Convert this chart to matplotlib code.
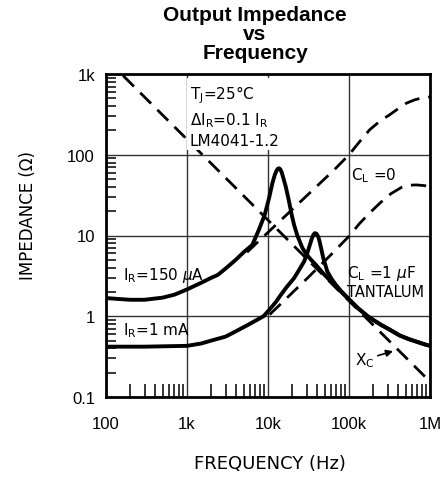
import matplotlib
matplotlib.use("Agg")
import matplotlib.pyplot as plt

# frequency (Hz) / impedance (ohm)
f_150ua = [100, 150, 200, 300, 500, 700, 1e3, 1.5e3, 2e3, 2.4e3, 3e3, 4e3, 5e3, 6.4e3,
           7.7e3, 9.1e3, 10.3e3, 11.3e3, 12.1e3, 12.7e3, 13.2e3, 13.7e3, 14.2e3, 14.8e3,
           15.6e3, 16.6e3, 18.2e3, 19.5e3, 21e3, 23e3, 26.6e3, 30e3, 34e3, 39e3, 48e3,
           59.6e3, 79e3, 100e3, 130e3, 170e3, 210e3, 250e3, 320e3, 420e3, 550e3, 700e3,
           850e3, 1e6]
z_150ua = [1.68, 1.63, 1.6, 1.6, 1.7, 1.85, 2.15, 2.6, 3.0, 3.25, 3.9, 5.0, 6.2, 7.65,
           11.7, 18, 29, 44, 56, 63, 67, 68, 66, 60,
           50, 40, 26.3, 18.5, 13.5, 10, 7.0, 5.8, 5.0, 4.33, 3.4,
           2.7, 2.03, 1.62, 1.25, 1.0, 0.87, 0.78, 0.68, 0.58, 0.52, 0.48,
           0.45, 0.43]

f_1ma = [100, 300, 1e3, 1.5e3, 2e3, 3e3, 4e3, 5.5e3, 7e3, 8.8e3, 10.8e3, 12.5e3, 14.4e3,
         17e3, 21e3, 24.8e3, 27.9e3, 30.5e3, 32.8e3, 34.8e3, 36.5e3, 38e3, 39.8e3, 41.8e3,
         43.5e3, 45.5e3, 48e3, 54e3, 61e3, 68.8e3, 80e3, 100e3, 130e3, 170e3, 210e3,
         250e3, 320e3, 420e3, 550e3, 700e3, 850e3, 1e6]
z_1ma = [0.42, 0.42, 0.43, 0.46, 0.5, 0.56, 0.65, 0.77, 0.88, 1.0, 1.26, 1.5, 1.84,
         2.3, 2.97, 3.9, 4.77, 6.0, 7.6, 9.2, 10.3, 10.7, 10.5, 9.6,
         8.3, 6.8, 5.3, 3.59, 2.9, 2.45, 2.05, 1.62, 1.25, 1.0, 0.87,
         0.78, 0.68, 0.58, 0.52, 0.48, 0.45, 0.43]

# C_L = 0 curves (dashed)
f_cl0_150 = [5.5e3, 11.9e3, 30e3, 65.6e3, 100e3, 135e3, 180e3, 240e3, 318e3, 410e3,
             513e3, 650e3, 800e3, 1e6]
z_cl0_150 = [6.2, 12.9, 31, 65, 100, 145, 204, 260, 313, 375,
             436, 480, 505, 520]
f_cl0_1ma = [10.5e3, 30e3, 59.6e3, 100e3, 136e3, 180e3, 240e3, 330e3, 446e3, 560e3,
             681e3, 850e3, 1e6]
z_cl0_1ma = [1.05, 2.9, 5.75, 9.8, 14.2, 19.0, 25.1, 33.0, 39.5, 42.0,
             42.3, 41.5, 40.4]

# capacitor reactance X_C
f_xc = [100, 1e3, 1e4, 1e5, 1e6]
z_xc = [1550, 155, 15.5, 1.55, 0.155]

xticks = [1e2, 1e3, 1e4, 1e5, 1e6]
xlabels = ["100", "1k", "10k", "100k", "1M"]
yticks = [0.1, 1, 10, 100, 1000]
ylabels = ["0.1", "1", "10", "100", "1k"]

W, H = 443, 481
fig = plt.figure(figsize=(W / 100, H / 100), dpi=100)
ax = fig.add_axes([106 / W, 1 - 398 / H, 324 / W, 323 / H])
ax.set_xscale("log")
ax.set_yscale("log")
ax.set_xlim(100, 1e6)
ax.set_ylim(0.1, 1000)

dash = (5.5, 3.2)
ax.plot(f_xc, z_xc, color="black", lw=2.0, dashes=dash)
ax.plot(f_cl0_150, z_cl0_150, color="black", lw=2.0, dashes=dash)
ax.plot(f_cl0_1ma, z_cl0_1ma, color="black", lw=2.0, dashes=dash)
ax.plot(f_150ua, z_150ua, color="black", lw=2.8, solid_joinstyle="round")
ax.plot(f_1ma, z_1ma, color="black", lw=2.8, solid_joinstyle="round")

ax.set_xticks(xticks, xlabels)
ax.set_yticks(yticks, ylabels)
ax.grid(which="major", color="#333333", lw=1.0)
ax.tick_params(which="major", length=0, labelsize=12)
ax.tick_params(axis="x", which="major", pad=14)
ax.tick_params(axis="y", which="major", pad=8)
ax.tick_params(which="minor", direction="in", width=1.1, color="black")
ax.tick_params(axis="x", which="minor", length=9.5, labelbottom=False)
ax.tick_params(axis="y", which="minor", length=7, labelleft=False)
for lab in ax.get_xticklabels() + ax.get_yticklabels():
    lab.set_family("Liberation Sans")
for sp in ax.spines.values():
    sp.set_linewidth(2.0)

tf = dict(family="DejaVu Sans", fontsize=11)

ax.text(0.258, 0.97, "T$_\\mathrm{J}$=25°C\nΔI$_\\mathrm{R}$=0.1 I$_\\mathrm{R}$\nLM4041-1.2",
        transform=ax.transAxes, ha="left", va="top", linespacing=1.35, zorder=5,
        bbox=dict(facecolor="white", edgecolor="none", pad=1.5), **tf)
ax.text(0.756, 0.675, "C$_\\mathrm{L}$ =0", transform=ax.transAxes,
        ha="left", va="baseline", **tf)
ax.text(0.052, 0.365, "I$_\\mathrm{R}$=150 $\\mu$A", transform=ax.transAxes,
        ha="left", va="baseline", **tf)
ax.text(0.052, 0.195, "I$_\\mathrm{R}$=1 mA", transform=ax.transAxes,
        ha="left", va="baseline", **tf)
ax.text(0.745, 0.372, "C$_\\mathrm{L}$ =1 $\\mu$F", transform=ax.transAxes,
        ha="left", va="baseline", **tf)
ax.text(0.744, 0.313, "TANTALUM", transform=ax.transAxes,
        ha="left", va="baseline", family="DejaVu Sans", fontsize=10.5)
ax.annotate("X$_\\mathrm{C}$", xy=(0.886, 0.142), xytext=(0.77, 0.102),
            xycoords="axes fraction", textcoords="axes fraction",
            ha="left", va="baseline", **tf,
            arrowprops=dict(arrowstyle="-|>", color="black", lw=1.2,
                            mutation_scale=10, shrinkA=0, shrinkB=0))

fig.text(255 / W, 1 - 6 / H, "Output Impedance\nvs\nFrequency", ha="center", va="top",
         family="Liberation Sans", fontweight="bold", fontsize=15, linespacing=1.0)
fig.text(270 / W, 1 - 464 / H, "FREQUENCY (Hz)", ha="center", va="center",
         family="DejaVu Sans", fontsize=13)
fig.text(28 / W, 1 - 216 / H, "IMPEDANCE (Ω)", ha="center", va="center",
         family="DejaVu Sans", rotation=90, fontsize=12)

fig.savefig("out.png", dpi=100)
